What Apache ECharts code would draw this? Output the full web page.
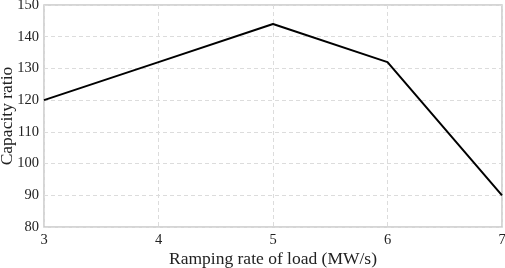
<!DOCTYPE html>
<html>
<head>
<meta charset="utf-8">
<script src="https://cdn.jsdelivr.net/npm/echarts@6/dist/echarts.min.js"></script>
<style>
  html, body { margin: 0; padding: 0; background: #fff; }
  #chart { width: 505px; height: 268px; }
</style>
</head>
<body>
<div id="chart"></div>
<script>
const rampRates = [3, 4, 5, 6, 7];
const capacityRatio = [120, 132, 144, 132, 90];

const font = "'Liberation Serif', 'DejaVu Serif', serif";
const gridDash = { color: "#dcdcdc", type: [4, 3], width: 1 };

const chart = echarts.init(document.getElementById("chart"));
chart.setOption({
  animation: false,
  grid: {
    left: 44, right: 3, top: 5, bottom: 41,
    outerBoundsMode: "none",
    containLabel: false,
    show: true, borderColor: "#c8c8c8", borderWidth: 1.5,
  },
  xAxis: {
    type: "value",
    min: 3, max: 7, interval: 1,
    name: "Ramping rate of load (MW/s)",
    nameLocation: "middle",
    nameMoveOverlap: false,
    nameGap: 23,
    nameTextStyle: { color: "#222", fontSize: 17.5, fontFamily: font },
    axisLine: { show: false },
    axisTick: { show: false },
    axisLabel: { color: "#222", fontSize: 14.5, fontFamily: font, margin: 6 },
    splitLine: { show: true, lineStyle: gridDash },
  },
  yAxis: {
    type: "value",
    min: 80, max: 150, interval: 10,
    name: "Capacity ratio",
    nameLocation: "middle",
    nameMoveOverlap: false,
    nameGap: 28,
    nameTextStyle: { color: "#222", fontSize: 17.5, fontFamily: font },
    axisLine: { show: false },
    axisTick: { show: false },
    axisLabel: { color: "#222", fontSize: 14.5, fontFamily: font, margin: 5 },
    splitLine: { show: true, lineStyle: gridDash },
  },
  series: [
    {
      type: "line",
      data: rampRates.map((x, i) => [x, capacityRatio[i]]),
      showSymbol: false,
      lineStyle: { color: "#000", width: 2 },
    },
  ],
});
</script>
</body>
</html>
